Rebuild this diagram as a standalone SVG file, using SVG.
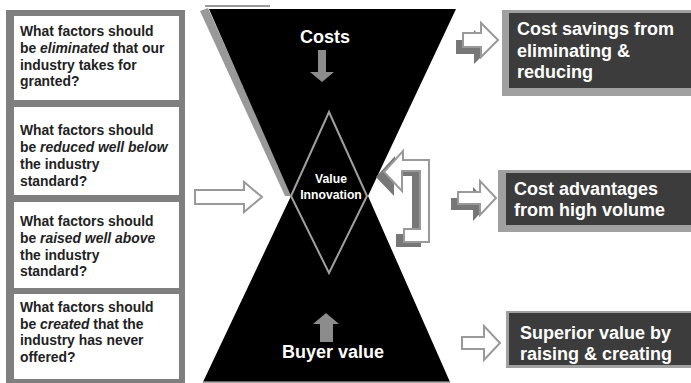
<svg xmlns="http://www.w3.org/2000/svg" width="691" height="383" viewBox="0 0 691 383">
<style>
.q{font-family:"Liberation Sans",Arial,sans-serif;font-size:13.9px;font-weight:bold;fill:#222}
.w{font-family:"Liberation Sans",Arial,sans-serif;font-weight:bold;fill:#fff}
.rb{font-size:18px}
.hollow{fill:#fff;stroke:#999;stroke-width:2;stroke-linejoin:miter}
.shadow{fill:#777}
.dark{fill:#3c3c3c}
.edge{fill:#a0a0a0}
</style>
<rect width="691" height="383" fill="#fff"/>
<g id="questions">
<rect x="6" y="10" width="179" height="373" fill="#7f7f7f"/>
<g id="q1"><rect x="14" y="16" width="165" height="84" fill="#fff"/>
<text class="q" x="20" y="36">What factors should</text>
<text class="q" x="20" y="53">be <tspan font-style="italic">eliminated</tspan> that our</text>
<text class="q" x="20" y="69.5">industry takes for</text>
<text class="q" x="20" y="86">granted?</text></g>
<g id="q2"><rect x="14" y="107" width="165" height="88" fill="#fff"/>
<text class="q" x="20" y="135">What factors should</text>
<text class="q" x="20" y="152">be <tspan font-style="italic">reduced well below</tspan></text>
<text class="q" x="20" y="169">the industry</text>
<text class="q" x="20" y="186">standard?</text></g>
<g id="q3"><rect x="14" y="202" width="165" height="86" fill="#fff"/>
<text class="q" x="20" y="226">What factors should</text>
<text class="q" x="20" y="243">be <tspan font-style="italic">raised well above</tspan></text>
<text class="q" x="20" y="260">the industry</text>
<text class="q" x="20" y="276">standard?</text></g>
<g id="q4"><rect x="14" y="294" width="165" height="85" fill="#fff"/>
<text class="q" x="20" y="312">What factors should</text>
<text class="q" x="20" y="328.5">be <tspan font-style="italic">created</tspan> that the</text>
<text class="q" x="20" y="345">industry has never</text>
<text class="q" x="20" y="362">offered?</text></g>
</g>
<g id="hourglass">
<line x1="205" y1="6" x2="270" y2="6" stroke="#999" stroke-width="2"/>
<polygon points="200,11 208,8 292,196 285,196" fill="#999"/>
<polygon points="209,9 456,9 368,196 450,382 203,382 291,196" fill="#000"/>
<line x1="203" y1="382" x2="450" y2="382" stroke="#888" stroke-width="1.5"/>
<text class="w" x="325" y="43" font-size="18" text-anchor="middle">Costs</text>
<polygon points="318,50 326,50 326,72 334,72 322,82 310,72 318,72" fill="#8c8c8c"/>
<polygon points="326,313 339,324 333,324 333,342 320,342 320,324 313,324" fill="#8c8c8c"/>
<text class="w" x="333" y="358" font-size="18" text-anchor="middle">Buyer value</text>
</g>
<g id="value-innovation">
<polygon points="329,112 367,196 329,273 291,196" fill="none" stroke="#a0a0a0" stroke-width="2"/>
<text class="w" x="331" y="183" font-size="12.2" text-anchor="middle">Value</text>
<text class="w" x="331" y="199" font-size="12.2" text-anchor="middle">Innovation</text>
</g>
<g id="connectors">
<polygon class="hollow" points="195,190 244,190 244,182 262,197 244,212 244,204 195,204"/>
<polygon class="shadow" transform="translate(-7,7)" points="463,33 481,33 481,23 498,40 481,57 481,47 463,47"/>
<polygon class="hollow" points="463,33 481,33 481,23 498,40 481,57 481,47 463,47"/>
<polygon class="shadow" transform="translate(-7,6)" points="458,192 480,192 480,181 496,198 480,215 480,204 458,204"/>
<polygon class="hollow" points="458,192 480,192 480,181 496,198 480,215 480,204 458,204"/>
<polygon class="hollow" points="462,337 484,337 484,326 500,343 484,360 484,349 462,349"/>
<polygon class="shadow" transform="translate(-8,5)" points="384,172 403,151 403,160 429,160 429,242 404,242 404,229 420,229 420,171 402,171 402,191"/>
<polygon class="hollow" points="384,172 403,151 403,160 429,160 429,242 404,242 404,229 420,229 420,171 402,171 402,191"/>
</g>
<g id="result1">
<rect class="edge" x="502" y="10" width="189" height="86"/>
<rect class="dark" x="509" y="13" width="182" height="75"/>
<text class="w rb" x="517" y="35">Cost savings from</text>
<text class="w rb" x="517" y="56.5">eliminating &amp;</text>
<text class="w rb" x="517" y="78">reducing</text>
</g>
<g id="result2">
<rect class="edge" x="498" y="170" width="193" height="62"/>
<rect class="dark" x="506" y="173" width="185" height="52"/>
<text class="w rb" x="514" y="195">Cost advantages</text>
<text class="w rb" x="514" y="216">from high volume</text>
</g>
<g id="result3">
<rect class="edge" x="506" y="311" width="185" height="57"/>
<rect class="dark" x="509" y="313" width="182" height="52"/>
<text class="w rb" x="520" y="339">Superior value by</text>
<text class="w rb" x="520" y="360">raising &amp; creating</text>
</g>
</svg>
